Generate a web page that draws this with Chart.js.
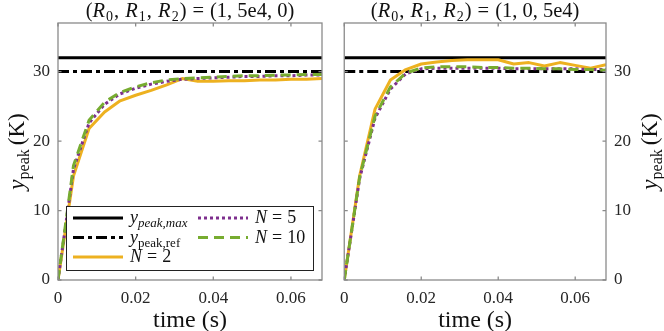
<!DOCTYPE html>
<html><head><meta charset="utf-8">
<script src="https://cdn.jsdelivr.net/npm/chart.js@4"></script>
<style>
html,body{margin:0;padding:0;background:#fff;}
#wrap{position:relative;width:664px;height:331px;overflow:hidden;background:#fff;}
.cv{position:absolute;top:0;width:332px;height:331px;}
</style></head>
<body><div id="wrap">
<div class="cv" style="left:0"><canvas id="c1" width="332" height="331"></canvas></div>
<div class="cv" style="left:332px"><canvas id="c2" width="332" height="331"></canvas></div>
</div>
<script>
// ---- data ----
const times = [0, 0.004, 0.008, 0.012, 0.016, 0.020, 0.024, 0.028, 0.032, 0.036, 0.040, 0.044, 0.048, 0.052, 0.056, 0.060, 0.064, 0.068];
const yPeakMax = 32;
const yPeakRef = 30;
// left panel (R0,R1,R2) = (1,5e4,0)
const leftN2  = [0, 15.0, 21.8, 24.2, 25.8, 26.6, 27.3, 28.1, 29.0, 28.6, 28.6, 28.7, 28.7, 28.8, 28.8, 28.9, 28.9, 29.0];
const leftN5  = [0, 16.0, 22.6, 25.3, 26.8, 27.6, 28.2, 28.6, 28.9, 29.0, 29.1, 29.2, 29.3, 29.3, 29.4, 29.4, 29.5, 29.5];
const leftN10 = [0, 16.5, 23.0, 25.6, 27.0, 27.8, 28.4, 28.8, 29.0, 29.1, 29.2, 29.3, 29.4, 29.4, 29.5, 29.5, 29.6, 29.6];
// right panel (R0,R1,R2) = (1,0,5e4)
const rightN2  = [0, 15.0, 24.6, 28.8, 30.3, 31.1, 31.4, 31.6, 31.7, 31.7, 31.7, 31.1, 31.3, 30.8, 31.3, 30.9, 30.5, 31.0];
const rightN5  = [0, 14.6, 23.3, 27.5, 29.7, 30.4, 30.5, 30.5, 30.5, 30.5, 30.5, 30.4, 30.4, 30.4, 30.4, 30.4, 30.3, 30.3];
const rightN10 = [0, 14.8, 23.6, 27.8, 29.8, 30.5, 30.7, 30.7, 30.7, 30.6, 30.6, 30.5, 30.5, 30.4, 30.4, 30.3, 30.3, 30.2];
const xTicks = [0, 0.02, 0.04, 0.06];
const yTicks = [0, 10, 20, 30];
const xMin = 0, xMax = 0.068, yMin = 0, yMax = 37;

// ---- styling ----
const FF = '"Liberation Serif", "DejaVu Serif", serif';
const AXC = '#8a8a8a';
const TXC = '#262626';
const C_N2 = '#EDB120', C_N5 = '#7E2F8E', C_N10 = '#77AC30';
const DASH_REF = [11, 4, 4, 4], DASH_N5 = [3, 3], DASH_N10 = [10, 6];

function font(p){ return (p.it ? 'italic ' : '') + p.s + 'px ' + FF; }
function richWidth(ctx, parts){
  let w = 0;
  for (const p of parts){ ctx.font = font(p); w += ctx.measureText(p.t).width + (p.g || 0); }
  return w;
}
function drawRich(ctx, parts, x, y, align){
  const w = richWidth(ctx, parts);
  let cx = align === 'center' ? x - w / 2 : x;
  ctx.textAlign = 'left'; ctx.textBaseline = 'alphabetic';
  for (const p of parts){
    ctx.font = font(p);
    ctx.fillText(p.t, cx, y + (p.dy || 0));
    cx += ctx.measureText(p.t).width + (p.g || 0);
  }
}

const boxPlugin = {
  id: 'box',
  afterDatasetsDraw(chart){
    const ctx = chart.ctx, a = chart.chartArea, sx = chart.scales.x, sy = chart.scales.y;
    ctx.save();
    ctx.strokeStyle = AXC; ctx.lineWidth = 1.3; ctx.setLineDash([]);
    ctx.strokeRect(a.left, a.top, a.right - a.left, a.bottom - a.top);
    const L = 3.5;
    ctx.beginPath();
    for (const v of xTicks){
      const px = sx.getPixelForValue(v);
      ctx.moveTo(px, a.bottom); ctx.lineTo(px, a.bottom - L);
      ctx.moveTo(px, a.top); ctx.lineTo(px, a.top + L);
    }
    for (const v of yTicks){
      const py = sy.getPixelForValue(v);
      ctx.moveTo(a.left, py); ctx.lineTo(a.left + L, py);
      ctx.moveTo(a.right, py); ctx.lineTo(a.right - L, py);
    }
    ctx.stroke();
    ctx.restore();
  }
};

function textPlugin(side, titleParts){
  return {
    id: 'txt' + side,
    afterDraw(chart){
      const ctx = chart.ctx, a = chart.chartArea;
      const cx = (a.left + a.right) / 2, cy = (a.top + a.bottom) / 2;
      ctx.save();
      ctx.fillStyle = '#111';
      drawRich(ctx, titleParts, cx, 17, 'center');
      drawRich(ctx, [{t:'time (s)', s:24}], cx, 327, 'center');
      const ylab = [{t:'y', s:23, it:true}, {t:'peak', s:16, dy:5, g:4}, {t:'(K)', s:23}];
      ctx.save();
      ctx.translate(side === 'left' ? 24 : 325, cy);
      ctx.rotate(-Math.PI / 2);
      drawRich(ctx, ylab, 0, 0, 'center');
      ctx.restore();
      if (side === 'left') drawLegend(ctx);
      ctx.restore();
    }
  };
}

function drawLegend(ctx){
  const bx = 66, by = 206, bw = 247, bh = 64;
  ctx.save();
  ctx.fillStyle = '#fff'; ctx.fillRect(bx, by, bw, bh);
  ctx.strokeStyle = '#222'; ctx.lineWidth = 1; ctx.setLineDash([]);
  ctx.strokeRect(bx + 0.5, by + 0.5, bw, bh);
  const rows = [218, 237.5, 257];
  const items = [
    {c:'#000', d:[], x:73, y:rows[0], txt:[{t:'y', s:18, it:true}, {t:'peak,max', s:13, it:true, dy:4}]},
    {c:'#000', d:DASH_REF, x:73, y:rows[1], txt:[{t:'y', s:18, it:true}, {t:'peak,ref', s:13, dy:4}]},
    {c:C_N2, d:[], x:73, y:rows[2], txt:[{t:'N', s:18, it:true, g:5}, {t:'=', s:18, g:5}, {t:'2', s:18}]},
    {c:C_N5, d:DASH_N5, x:198, y:rows[0], txt:[{t:'N', s:18, it:true, g:5}, {t:'=', s:18, g:5}, {t:'5', s:18}]},
    {c:C_N10, d:DASH_N10, x:198, y:rows[1], txt:[{t:'N', s:18, it:true, g:5}, {t:'=', s:18, g:5}, {t:'10', s:18}]}
  ];
  for (const it of items){
    ctx.strokeStyle = it.c; ctx.lineWidth = 3; ctx.setLineDash(it.d); ctx.lineCap = 'butt';
    ctx.beginPath(); ctx.moveTo(it.x, it.y); ctx.lineTo(it.x + 50, it.y); ctx.stroke();
    ctx.setLineDash([]);
    ctx.fillStyle = '#111';
    drawRich(ctx, it.txt, it.x + 57, it.y + 5, 'left');
  }
  ctx.restore();
}

function pts(arr){ return times.map((t, i) => ({x: t, y: arr[i]})); }
function hline(v){ return [{x: xMin, y: v}, {x: xMax, y: v}]; }

function makeChart(id, side, titleParts, s2, s5, s10){
  return new Chart(document.getElementById(id), {
    type: 'line',
    data: { datasets: [
      {label:'ypeak,max', data: hline(yPeakMax), borderColor:'#000', borderWidth:3, order:5},
      {label:'ypeak,ref', data: hline(yPeakRef), borderColor:'#000', borderWidth:3, borderDash:DASH_REF, order:4},
      {label:'N = 2', data: pts(s2), borderColor:C_N2, borderWidth:3, order:3},
      {label:'N = 5', data: pts(s5), borderColor:C_N5, borderWidth:3, borderDash:DASH_N5, order:2},
      {label:'N = 10', data: pts(s10), borderColor:C_N10, borderWidth:3, borderDash:DASH_N10, order:1}
    ]},
    options: {
      responsive: false, animation: false, devicePixelRatio: 1,
      elements: { point: { radius: 0 }, line: { tension: 0, fill: false, borderJoinStyle: 'round' } },
      layout: { padding: side === 'left' ? {left:0, right:10, top:23, bottom:0} : {left:10, right:0, top:23, bottom:0} },
      plugins: { legend: { display: false }, tooltip: { enabled: false }, title: { display: false } },
      scales: {
        x: {
          type: 'linear', min: xMin, max: xMax,
          grid: { display: false, drawTicks: false }, border: { display: false },
          afterBuildTicks: s => { s.ticks = xTicks.map(v => ({value: v})); },
          afterFit: s => { s.height = 51; },
          ticks: { font: { family: FF, size: 17 }, color: TXC, padding: 8, maxRotation: 0, autoSkip: false,
                   callback: v => v === 0 ? '0' : v.toFixed(2) }
        },
        y: {
          type: 'linear', position: side, min: yMin, max: yMax,
          grid: { display: false, drawTicks: false }, border: { display: false },
          afterBuildTicks: s => { s.ticks = yTicks.map(v => ({value: v})); },
          afterFit: s => { s.width = 58; },
          ticks: { font: { family: FF, size: 17 }, color: TXC, padding: 8, autoSkip: false,
                   callback: v => String(v) }
        }
      }
    },
    plugins: [boxPlugin, textPlugin(side, titleParts)]
  });
}

const TS = 20.5;
const sub = (t) => ({t, s:14, dy:4, g:1});
const Rit = {t:'R', s:TS, it:true, g:1};
const cm = {t:', ', s:TS, g:1};
function title(rest){
  return [{t:'(', s:TS}, Rit, sub('0'), cm, Rit, sub('1'), cm, Rit, sub('2'), {t:')', s:TS, g:6}, {t:'=', s:TS, g:6}, {t:rest, s:TS}];
}
const titleL = title('(1, 5e4, 0)');
const titleR = title('(1, 0, 5e4)');

makeChart('c1', 'left', titleL, leftN2, leftN5, leftN10);
makeChart('c2', 'right', titleR, rightN2, rightN5, rightN10);
</script>
</body></html>
